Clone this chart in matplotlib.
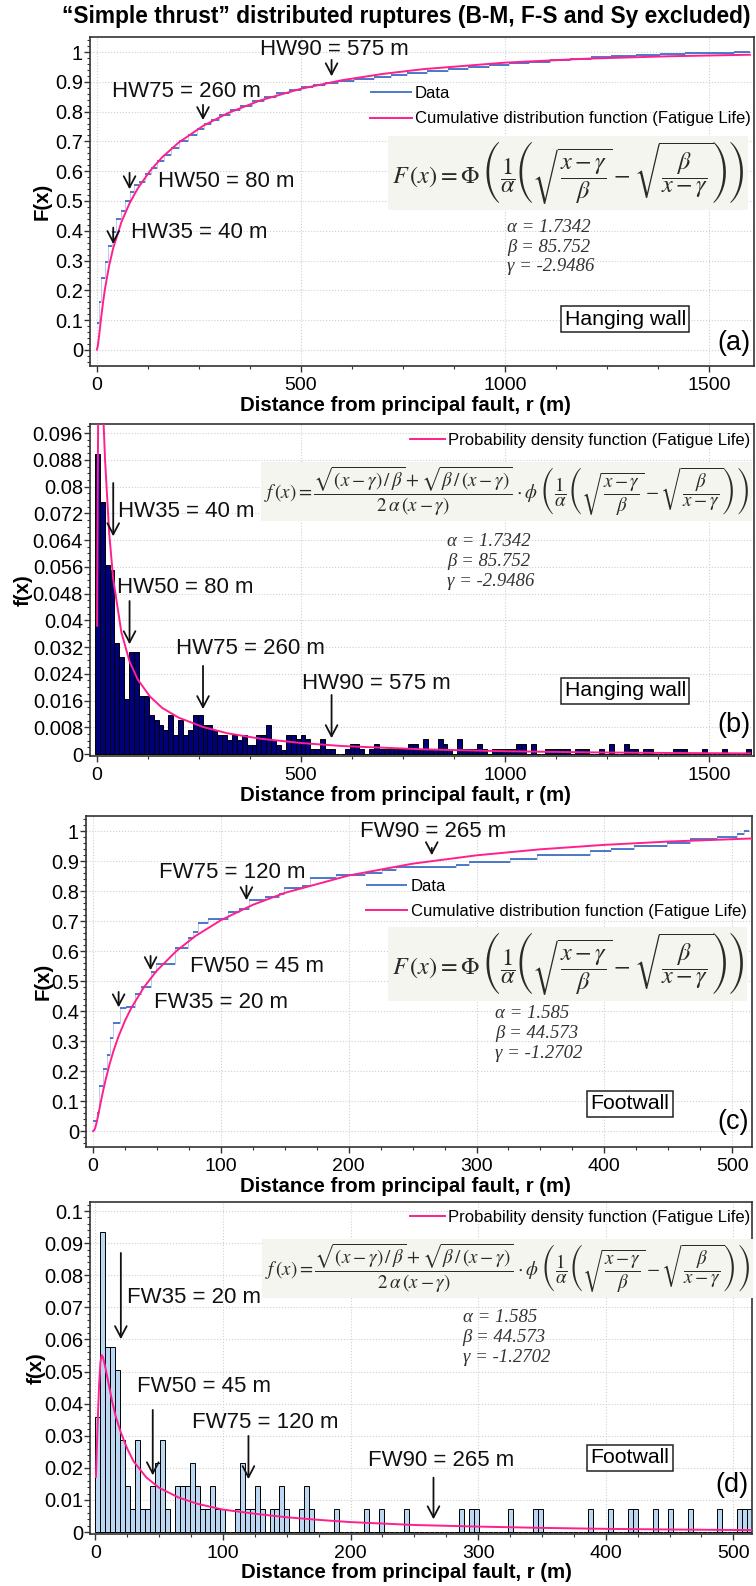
import matplotlib.pyplot as plt
import matplotlib.ticker as mticker
import numpy as np

plt.rcParams['font.family'] = 'Liberation Sans'
plt.rcParams['mathtext.fontset'] = 'stix'

PINK = '#ff1f8e'
BLUE = '#3f6fc6'
NAVY = '#00007a'
LIGHT = '#bcd7f2'
FORM_BG = '#f3f5ee'

# ---------------- data ----------------
# hanging wall quantiles (m) and footwall quantiles (m)
hw_pct = [35, 50, 75, 90]
hw_dist = [40, 80, 260, 575]
fw_pct = [35, 50, 75, 90]
fw_dist = [20, 45, 120, 265]

hw_params = ['α = 1.7342', 'β = 85.752', 'γ = -2.9486']
fw_params = ['α = 1.585', 'β = 44.573', 'γ = -1.2702']

# (a) empirical CDF, step starts and levels
hw_ecdf_x = [0, 4, 11, 19, 27, 38, 47, 58, 68, 80, 92, 104, 118, 132, 148, 165, 182, 200,
             222, 245, 262, 280, 300, 325, 350, 380, 410, 440, 470, 500, 530, 560, 590,
             630, 680, 720, 760, 810, 860, 910, 960, 1010, 1060, 1110, 1160, 1210, 1260,
             1320, 1380, 1440, 1500, 1560]
hw_ecdf_y = [.09, .16, .24, .295, .35, .395, .44, .465, .5, .53, .555, .565, .59, .612,
             .635, .655, .677, .70, .722, .742, .758, .772, .788, .804, .82, .836, .849,
             .861, .873, .882, .89, .897, .902, .908, .915, .922, .93, .937, .944, .951,
             .957, .963, .968, .973, .978, .983, .987, .99, .993, .995, .997, .999]
hw_ecdf_end = 1600

# (a) fitted CDF
hw_cdf_x = [0, 2, 5, 10, 15, 20, 30, 40, 60, 80, 100, 130, 160, 200, 260, 320, 400, 500,
            600, 700, 800, 1000, 1200, 1400, 1600]
hw_cdf_y = [.0013, .0119, .0429, .1039, .1595, .2071, .2834, .3421, .429, .4923, .542,
            .6006, .6468, .6958, .7519, .7944, .8374, .8766, .9052, .9264, .9425, .9643,
            .9776, .9857, .9909]

# (b) histogram, 12 m bins starting at -5 m
hw_bin_start = -5
hw_bin_width = 12
hw_hist = [.0899, .0754, .0565, .055, .0333, .0289, .0165, .0305, .0305, .0175,
           .0175, .0117, .0102, .0087, .0072, .0117, .0057, .0102, .0057, .0072,
           .0117, .0117, .0087, .0087, .0072, .0057, .0057, .0042, .0057, .0042,
           .0057, .0027, .0027, .0057, .0057, .0087, .0042, .0027, .0012, .0057,
           .0057, .0044, .0057, .0044, .0014, .0014, .0044, .0014, .0014, 0,
           0, .0014, .0029, .0029, .0014, 0, .0014, .0029, .0014, .0014,
           .0014, .0014, .0014, .0014, .0029, .0029, .0014, .0044, .0014, .0014,
           .0044, .0029, .0014, 0, .0044, .0014, .0014, .0014, .0029, .0014,
           0, .0014, .0014, .0014, .0014, .0014, .0029, .0029, 0, .0029,
           0, 0, .0014, .0014, .0014, .0014, .0014, 0, .0014, .0014,
           .0014, 0, 0, .0014, 0, .0029, 0, 0, .0029, .0014,
           .0014, 0, .0014, .0014, 0, 0, 0, 0, .0014, .0014,
           .0014, 0, 0, 0, .0014, 0, 0, 0, .0014, 0,
           0, 0, 0, .0014]

# (b) fitted PDF
hw_pdf_x = [0.5, 1, 2, 3, 5, 7, 10, 15, 20, 30, 40, 60, 80, 100, 130, 160, 200, 260,
            320, 400, 500, 600, 800, 1000, 1200, 1400, 1600]
hw_pdf_y = [.0384, .0531, .0793, .0985, .1186, .1236, .119, .1031, .088, .0662, .0523,
            .0364, .0277, .0223, .0172, .0138, .0109, .0081, .0062, .0046, .0033, .0024,
            .0014, .00084, .00051, .00032, .0002]

# (c) empirical CDF
fw_ecdf_x = [0, 3, 4.5, 7.6, 11, 13, 15.5, 20.7, 26, 32.5, 37.7, 45.6, 49.5, 63.9, 74.4,
             78, 82.2, 90.2, 105.9, 113.8, 121.7, 134.7, 145.2, 149, 163.5, 170, 190, 213,
             226, 237, 284, 294, 326, 347, 389, 405, 423, 449, 467, 488, 504, 509]
fw_ecdf_y = [.034, .06, .15, .208, .252, .309, .361, .409, .414, .458, .48, .53, .556,
             .609, .642, .664, .692, .707, .731, .739, .77, .78, .79, .81, .817, .844,
             .853, .861, .87, .879, .886, .897, .906, .92, .933, .94, .95, .96, .973, .98,
             .989, 1.0]
fw_ecdf_end = 513

# (c) fitted CDF
fw_cdf_x = [0, 0.8, 1, 1.5, 2, 3, 4, 5, 6, 8, 10, 13, 16, 20, 25, 30, 40, 50, 65, 80, 100,
            125, 150, 200, 250, 300, 350, 400, 450, 516]
fw_cdf_y = [.0001, .0026, .004, .0088, .0155, .0327, .0528, .0742, .0956, .1366, .1742,
            .2242, .2673, .3165, .3679, .4111, .4806, .5352, .5994, .6498, .7028, .754,
            .7938, .8517, .8911, .9189, .939, .9538, .9648, .9752]

# (d) histogram, 3.9 m bins from 0, counts of one-unit bars
fw_bin_width = 3.9
fw_unit = 0.00719
fw_counts = [5, 13, 8, 8, 7, 4, 2, 1, 4, 1, 1, 2, 3, 4, 1, 0, 2, 2, 2, 3,
             2, 1, 1, 2, 1, 1, 0, 0, 1, 3, 1, 1, 2, 1, 0, 1, 1, 2, 1, 0,
             0, 1, 2, 1, 0, 0, 0, 0, 1, 0, 0, 0, 0, 0, 1, 0, 0, 1, 0, 0,
             0, 0, 1, 0, 0, 0, 0, 0, 0, 0, 0, 0, 0, 1, 0, 1, 1, 0, 0, 0,
             0, 0, 0, 1, 0, 0, 0, 0, 1, 1, 0, 0, 0, 0, 0, 0, 0, 0, 0, 1,
             0, 0, 0, 1, 0, 0, 0, 1, 1, 0, 0, 0, 1, 0, 0, 1, 0, 0, 0, 1,
             0, 0, 0, 0, 0, 1, 0, 0, 0, 1, 1, 1]

# (d) fitted PDF
fw_pdf_x = [0.5, 1, 2, 3, 4, 5, 6, 8, 10, 13, 16, 20, 25, 30, 40, 50, 65, 80, 100, 125,
            150, 175, 200, 250, 300, 350, 400, 450, 516]
fw_pdf_y = [.0172, .024, .036, .046, .053, .0551, .0545, .051, .047, .041, .036, .031,
            .026, .022, .017, .0138, .0108, .0088, .007, .0057, .0046, .0038, .0031,
            .0022, .0017, .0013, .001, .0008, .0006]

CDF_FORMULA = (r'$F\,(x) = \mathit{\Phi}\;\left(\dfrac{1}{\alpha}\left(\sqrt{\dfrac{x-\gamma}{\beta}}'
               r' - \sqrt{\dfrac{\beta}{x-\gamma}}\right)\right)$')
PDF_FORMULA = (r'$f\,(x) = \dfrac{\sqrt{(x-\gamma)\,/\,\beta} + \sqrt{\beta\,/\,(x-\gamma)}}'
               r'{2\,\alpha\,(x-\gamma)} \cdot \phi\;\left(\dfrac{1}{\alpha}\left('
               r'\sqrt{\dfrac{x-\gamma}{\beta}} - \sqrt{\dfrac{\beta}{x-\gamma}}\right)\right)$')


def fmt(v, pos):
    return '%g' % round(v, 4)


def style(ax, xlim, ylim, xmaj, xmin, ymaj, ymin, ylabel, ylab_x, xlab_x, xlab_y):
    ax.set_xlim(*xlim)
    ax.set_ylim(*ylim)
    ax.xaxis.set_major_locator(mticker.MultipleLocator(xmaj))
    ax.xaxis.set_minor_locator(mticker.MultipleLocator(xmin))
    ax.yaxis.set_major_locator(mticker.MultipleLocator(ymaj))
    ax.yaxis.set_minor_locator(mticker.MultipleLocator(ymin))
    ax.yaxis.set_major_formatter(mticker.FuncFormatter(fmt))
    ax.tick_params(axis='both', which='major', direction='out', length=4, width=1, color='#333333')
    ax.tick_params(axis='both', which='minor', direction='out', length=2.5, width=0.8, color='#333333')
    ax.tick_params(axis='x', labelsize=14, pad=4)
    ax.tick_params(axis='y', labelsize=14.5, pad=1)
    for s in ax.spines.values():
        s.set_color('#333333')
        s.set_linewidth(1.2)
    ax.grid(True, which='major', ls=':', color='#d0d0d0', lw=0.8)
    ax.set_axisbelow(True)
    ax.set_ylabel(ylabel, fontsize=14.7, fontweight='bold', va='center')
    ax.yaxis.set_label_coords(ylab_x, 0.5)
    ax.set_xlabel('Distance from principal fault, r (m)', fontsize=14.7, fontweight='bold', va='center')
    ax.xaxis.set_label_coords(xlab_x, xlab_y)


def mark(ax, text, tx, ty, ax_x, y0, y1):
    ax.annotate('', xy=(ax_x, y1), xytext=(ax_x, y0),
                arrowprops=dict(arrowstyle='->,head_length=0.8,head_width=0.42',
                                color='#111111', lw=1.3), zorder=6)
    ax.text(tx, ty, text, fontsize=16, ha='center', va='center', color='#111111', zorder=6)


def boxed(ax, text, x, y):
    ax.text(x, y, text, transform=ax.transAxes, fontsize=15.3, ha='center', va='center',
            bbox=dict(boxstyle='square,pad=0.16', fc='white', ec='#222222', lw=1.1), zorder=7)


def params(ax, lines, x, y):
    ax.text(x, y, '\n'.join(lines), transform=ax.transAxes, fontsize=13.5, ha='left', va='top',
            family='Liberation Serif', style='italic', color='#333333', linespacing=1.22, zorder=6)


def formula(ax, f, x, y, size):
    ax.text(x, y, f, transform=ax.transAxes, fontsize=size, ha='center', va='center',
            color='#2a2a2a', zorder=5,
            bbox=dict(boxstyle='square,pad=0.15', fc=FORM_BG, ec='none'))


fig = plt.figure(figsize=(7.56, 15.86), dpi=100)
fig.text(0.538, 1 - 17 / 1586, '\u201cSimple thrust\u201d distributed ruptures (B-M, F-S and Sy excluded)',
         ha='center', va='center', fontsize=16.4, fontweight='bold')

ax_a = fig.add_axes([0.1190, 0.7692, 0.8783, 0.2074])
ax_b = fig.add_axes([0.1190, 0.5233, 0.8783, 0.2093])
ax_c = fig.add_axes([0.1138, 0.2768, 0.8810, 0.2087])
ax_d = fig.add_axes([0.1190, 0.0328, 0.8757, 0.2093])

# ---- (a)
ax = ax_a
ends = hw_ecdf_x[1:] + [hw_ecdf_end]
ax.step(hw_ecdf_x + [hw_ecdf_end], hw_ecdf_y + [hw_ecdf_y[-1]], where='post', color=BLUE, lw=0.5, alpha=0.5)
ax.hlines(hw_ecdf_y, hw_ecdf_x, ends, color=BLUE, lw=1.3, label='Data')
ax.plot(hw_cdf_x, hw_cdf_y, color=PINK, lw=1.4, label='Cumulative distribution function (Fatigue Life)', zorder=4)
style(ax, (-17, 1610), (-0.054, 1.05), 500, 125, 0.1, 0.02, 'F(x)', -0.0723, 0.475, -0.1185)
ax.legend(loc='upper left', bbox_to_anchor=(0.4217, 0.851), frameon=False, fontsize=12,
          handlelength=2.5, handletextpad=0.2, borderpad=0, borderaxespad=0, labelspacing=0.62)
hw_tpos = [(250, .393), (318, .564), (220, .869), (581, 1.01)]
hw_arrow_y = [(.420, .346), (.604, .530), (.832, .762), (.983, .909)]
for p, d, (tx, ty), (y0, y1) in zip(hw_pct, hw_dist, hw_tpos, hw_arrow_y):
    mark(ax, 'HW%d = %d m' % (p, d), tx, ty, d, y0, y1)
formula(ax, CDF_FORMULA, 0.72, 0.587, 17.5)
params(ax, hw_params, 0.628, 0.448)
boxed(ax, 'Hanging wall', 0.806, 0.143)
ax.text(0.995, 0.07, '(a)', transform=ax.transAxes, fontsize=19.5, ha='right', va='center')

# ---- (b)
ax = ax_b
edges = hw_bin_start + hw_bin_width * np.arange(len(hw_hist))
ax.bar(edges, hw_hist, width=hw_bin_width, align='edge', color=NAVY, edgecolor='black', lw=0.7, zorder=2)
ax.plot(hw_pdf_x, hw_pdf_y, color=PINK, lw=1.4, label='Probability density function (Fatigue Life)', zorder=4)
style(ax, (-17, 1610), (-0.0006, 0.0987), 500, 125, 0.008, 0.002, 'f(x)', -0.101, 0.475, -0.1175)
ax.legend(loc='upper left', bbox_to_anchor=(0.482, 0.973), frameon=False, fontsize=12,
          handlelength=2.1, handletextpad=0.2, borderpad=0, borderaxespad=0)
hw_tpos_b = [(218, .0727), (216, .0499), (375, .0317), (686, .0212)]
hw_arrow_yb = [(.0819, .0643), (.0466, .032), (.0272, .0126), (.0185, .0039)]
for p, d, (tx, ty), (y0, y1) in zip(hw_pct, hw_dist, hw_tpos_b, hw_arrow_yb):
    mark(ax, 'HW%d = %d m' % (p, d), tx, ty, d, y0, y1)
formula(ax, PDF_FORMULA, 0.627, 0.797, 13.7)
params(ax, hw_params, 0.538, 0.671)
boxed(ax, 'Hanging wall', 0.806, 0.196)
ax.text(0.995, 0.093, '(b)', transform=ax.transAxes, fontsize=19.5, ha='right', va='center')

# ---- (c)
ax = ax_c
ends = fw_ecdf_x[1:] + [fw_ecdf_end]
ax.step(fw_ecdf_x + [fw_ecdf_end], fw_ecdf_y + [fw_ecdf_y[-1]], where='post', color=BLUE, lw=0.5, alpha=0.5)
ax.hlines(fw_ecdf_y, fw_ecdf_x, ends, color=BLUE, lw=1.3, label='Data')
ax.plot(fw_cdf_x, fw_cdf_y, color=PINK, lw=1.4, label='Cumulative distribution function (Fatigue Life)', zorder=4)
style(ax, (-5.5, 515.6), (-0.053, 1.05), 100, 25, 0.1, 0.02, 'F(x)', -0.0646, 0.4797, -0.1208)
ax.legend(loc='upper left', bbox_to_anchor=(0.42, 0.81), frameon=False, fontsize=12,
          handlelength=2.5, handletextpad=0.2, borderpad=0, borderaxespad=0, labelspacing=0.62)
fw_tpos = [(100.2, .427), (128.3, .547), (108.8, .863), (266, .997)]
fw_arrow_y = [(.473, .403), (.593, .527), (.827, .76), (.953, .91)]
for p, d, (tx, ty), (y0, y1) in zip(fw_pct, fw_dist, fw_tpos, fw_arrow_y):
    mark(ax, 'FW%d = %d m' % (p, d), tx, ty, d, y0, y1)
formula(ax, CDF_FORMULA, 0.723, 0.554, 17.5)
params(ax, fw_params, 0.614, 0.428)
boxed(ax, 'Footwall', 0.817, 0.130)
ax.text(0.995, 0.0755, '(c)', transform=ax.transAxes, fontsize=19.5, ha='right', va='center')

# ---- (d)
ax = ax_d
edges = fw_bin_width * np.arange(len(fw_counts))
ax.bar(edges, np.array(fw_counts) * fw_unit, width=fw_bin_width, align='edge', color=LIGHT,
       edgecolor='black', lw=0.7, zorder=2)
ax.plot(fw_pdf_x, fw_pdf_y, color=PINK, lw=1.4, label='Probability density function (Fatigue Life)', zorder=4)
style(ax, (-4.2, 514.6), (-0.0006, 0.1028), 100, 25, 0.01, 0.002, 'f(x)', -0.0816, 0.478, -0.1175)
ax.legend(loc='upper left', bbox_to_anchor=(0.483, 0.976), frameon=False, fontsize=12,
          handlelength=2.1, handletextpad=0.2, borderpad=0, borderaxespad=0)
fw_tpos_d = [(77.4, .0732), (85.2, .0452), (133, .034), (271, .0224)]
fw_arrow_yd = [(.0878, .0592), (.0389, .0168), (.0308, .0156), (.0178, .0031)]
for p, d, (tx, ty), (y0, y1) in zip(fw_pct, fw_dist, fw_tpos_d, fw_arrow_yd):
    mark(ax, 'FW%d = %d m' % (p, d), tx, ty, d, y0, y1)
formula(ax, PDF_FORMULA, 0.631, 0.80, 13.7)
params(ax, fw_params, 0.563, 0.677)
boxed(ax, 'Footwall', 0.816, 0.229)
ax.text(0.995, 0.148, '(d)', transform=ax.transAxes, fontsize=19.5, ha='right', va='center')

fig.savefig('out.png', dpi=100)
